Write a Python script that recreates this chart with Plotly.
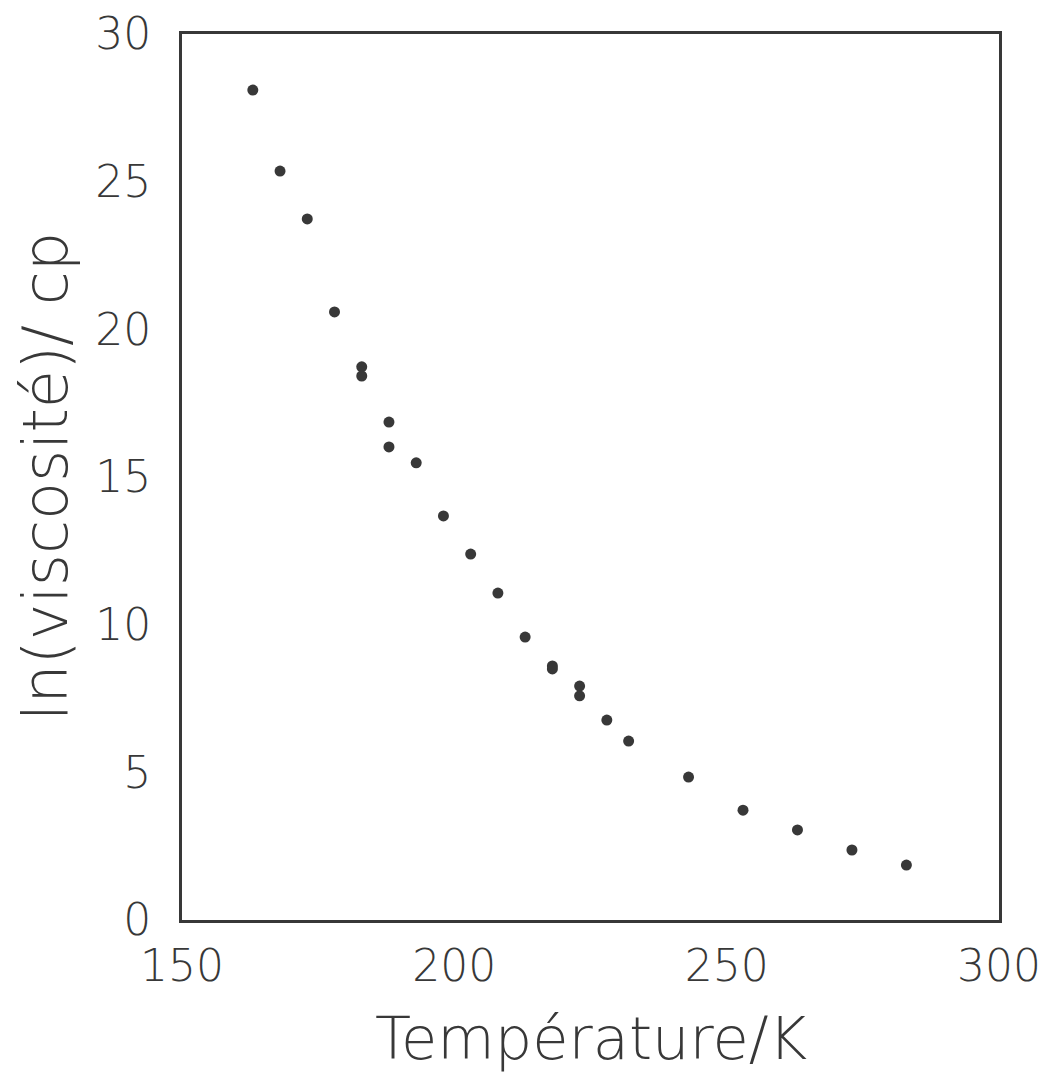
import plotly.graph_objects as go

temperature = [163, 168, 173, 178, 183, 183, 188, 188, 193, 198, 203, 208, 213,
               218, 218, 223, 223, 228, 232, 243, 253, 263, 273, 283]
ln_viscosity = [28.1, 25.36, 23.74, 20.59, 18.73, 18.42, 16.86, 16.02, 15.48, 13.68,
                12.39, 11.07, 9.58, 8.60, 8.50, 7.92, 7.59, 6.77, 6.06, 4.84, 3.72,
                3.05, 2.37, 1.86]
x_ticks = [150, 200, 250, 300]
y_ticks = [0, 5, 10, 15, 20, 25, 30]
x_title = "Température/K"
y_title = "ln(viscosité)/ cp"

ink = "#383838"
fam = "DejaVu Sans, sans-serif"

fig = go.Figure(go.Scatter(
    x=temperature, y=ln_viscosity, mode="markers",
    marker=dict(size=11, color=ink), showlegend=False))

fig.update_layout(
    width=1043, height=1067,
    margin=dict(l=174, r=52, t=26, b=155),
    paper_bgcolor="white", plot_bgcolor="white",
    font=dict(family=fam, size=44, color=ink, weight=300),
)
fig.update_xaxes(
    range=[150, 300], tickvals=x_ticks, ticks="", showgrid=False, zeroline=False,
    showline=True, linecolor=ink, linewidth=3, mirror=True, automargin=False,
    tickfont=dict(family=fam, size=44, color=ink, weight=300), ticklabelstandoff=5,
)
fig.update_yaxes(
    range=[0, 30], tickvals=y_ticks, ticks="", showgrid=False, zeroline=False,
    showline=True, linecolor=ink, linewidth=3, mirror=True, automargin=False,
    tickfont=dict(family=fam, size=44, color=ink, weight=300), ticklabelstandoff=19,
)
fig.add_annotation(
    text=x_title, xref="paper", yref="paper", x=0.5, y=0,
    xanchor="center", yanchor="middle", yshift=-118, showarrow=False,
    font=dict(family=fam, size=59, color=ink, weight=300))
fig.add_annotation(
    text=y_title, xref="paper", yref="paper", x=0, y=0.5, textangle=-90,
    xanchor="center", yanchor="middle", xshift=-137, showarrow=False,
    font=dict(family=fam, size=62, color=ink, weight=300))
fig.write_html("out.html")
